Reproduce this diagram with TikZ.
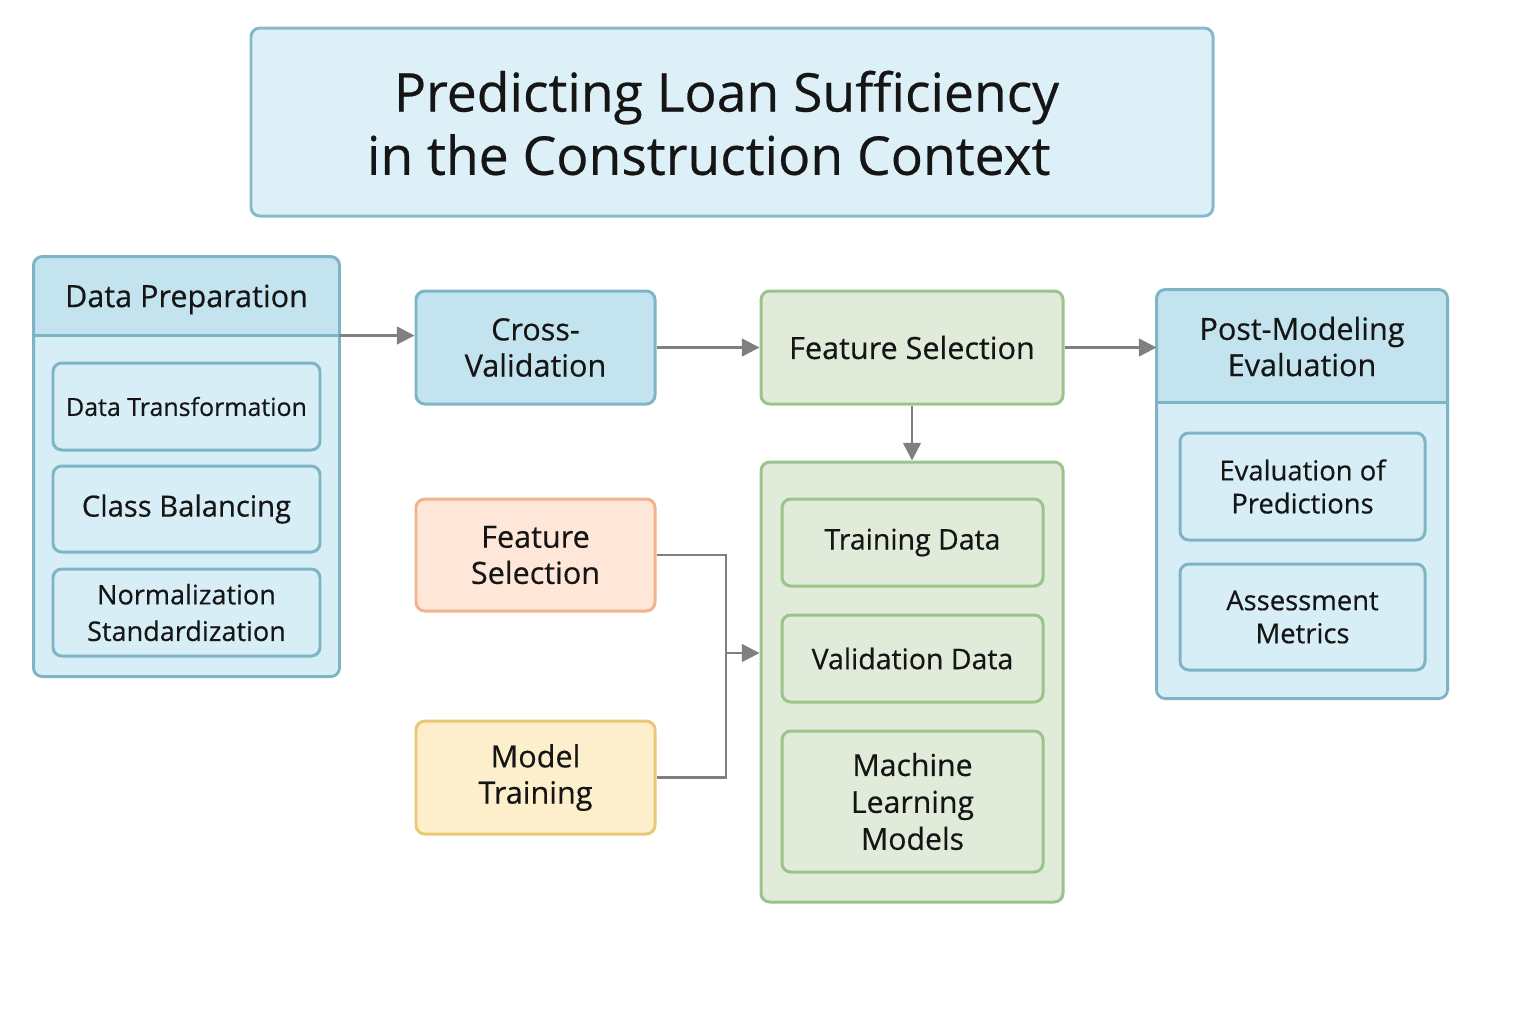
\documentclass[tikz,border=0pt]{standalone}
\usepackage{fontspec}
\setmainfont{Open Sans}[FakeBold=0.45]
\usepackage{tikz}
\usetikzlibrary{positioning,arrows.meta,calc}
\definecolor{titlefill}{HTML}{DDF0F7}
\definecolor{titleline}{HTML}{86BACB}
\definecolor{bluehead}{HTML}{C3E3EE}
\definecolor{bluebody}{HTML}{D7EEF6}
\definecolor{blueline}{HTML}{7EB4C6}
\definecolor{greenfill}{HTML}{E1EBD9}
\definecolor{greenline}{HTML}{99C48B}
\definecolor{orangefill}{HTML}{FEE6D8}
\definecolor{orangeline}{HTML}{F1B38D}
\definecolor{yellowfill}{HTML}{FDEFCB}
\definecolor{yellowline}{HTML}{EBC877}
\definecolor{arrowgray}{HTML}{808080}
\definecolor{inktext}{HTML}{151515}
\tikzset{
  box/.style={draw, rounded corners=2.5pt, line width=0.85pt, align=center,
    inner sep=0pt, text=inktext},
  bluebox/.style={box, draw=blueline, fill=bluebody},
  greenbox/.style={box, draw=greenline, fill=greenfill},
  headtext/.style={text=inktext, align=center, font=\fontsize{8.7}{10.3}\selectfont},
  subtext/.style={font=\fontsize{7.8}{9.4}\selectfont},
  conn/.style={draw=arrowgray, line width=0.7pt},
  arr/.style={conn, -{Triangle[length=5pt,width=5pt]}}
}
\begin{document}
\begin{tikzpicture}
    \useasboundingbox (0,0) rectangle (15.36,-10.24);
    \node[box, draw=titleline, fill=titlefill, minimum width=9.62cm, minimum height=1.88cm] (title) at (7.32,-1.22) {};
    \node[text=inktext, align=left, font=\fontsize{15.2}{18}\selectfont] (titletext) at (7.13,-1.23)
      {\hspace*{0.27cm}Predicting Loan Sufficiency\\in the Construction Context};
    % data preparation panel
    \node[box, draw=none, fill=bluebody, minimum width=3.03cm, minimum height=4.17cm] (prep) at (1.865,-4.665) {};
    \fill[bluehead, rounded corners=2.5pt] (prep.north west) rectangle ($(prep.north east)+(0,-0.79)$);
    \fill[bluehead] ($(prep.north west)+(0,-0.4)$) rectangle ($(prep.north east)+(0,-0.79)$);
    \coordinate (prepdiv) at ($(prep.north east)+(0,-0.79)$);
    \draw[blueline, line width=0.85pt] ($(prep.north west)+(0,-0.79)$) -- (prepdiv);
    \draw[blueline, line width=0.85pt, rounded corners=2.5pt] (prep.south west) rectangle (prep.north east);
    \node[headtext] (preptitle) at ($(prep.north)+(0,-0.43)$) {Data Preparation};
    \node[bluebox, subtext, font=\fontsize{7.1}{9}\selectfont, minimum width=2.67cm, minimum height=0.87cm] (trans) at (1.865,-4.065) {Data Transformation};
    \node[bluebox, subtext, font=\fontsize{8.3}{10}\selectfont, minimum width=2.67cm, minimum height=0.86cm] (balance) at (1.865,-5.09) {Class Balancing};
    \node[bluebox, subtext, font=\fontsize{7.7}{10.4}\selectfont, minimum width=2.67cm, minimum height=0.87cm] (norm) at (1.865,-6.125) {Normalization\\Standardization};
    % top row
    \node[box, draw=blueline, fill=bluehead, headtext, minimum width=2.39cm, minimum height=1.13cm] (cv) at (5.355,-3.475) {Cross-\\Validation};
    \node[greenbox, headtext, minimum width=3.02cm, minimum height=1.13cm] (fs) at (9.12,-3.475) {Feature Selection};
    % post-modeling panel
    \node[box, draw=none, fill=bluebody, minimum width=2.88cm, minimum height=4.06cm] (post) at (13.02,-4.94) {};
    \fill[bluehead, rounded corners=2.5pt] (post.north west) rectangle ($(post.north east)+(0,-1.13)$);
    \fill[bluehead] ($(post.north west)+(0,-0.6)$) rectangle ($(post.north east)+(0,-1.13)$);
    \draw[blueline, line width=0.85pt] ($(post.north west)+(0,-1.13)$) -- ($(post.north east)+(0,-1.13)$);
    \draw[blueline, line width=0.85pt, rounded corners=2.5pt] (post.south west) rectangle (post.north east);
    \node[headtext] (posttitle) at ($(post.north)+(0,-0.57)$) {Post-Modeling\\Evaluation};
    \node[bluebox, subtext, minimum width=2.45cm, minimum height=1.07cm] (evalpred) at (13.025,-4.865) {Evaluation of\\Predictions};
    \node[bluebox, subtext, minimum width=2.45cm, minimum height=1.06cm] (assess) at (13.025,-6.17) {Assessment\\Metrics};
    % model panel
    \node[greenbox, minimum width=3.02cm, minimum height=4.40cm] (mlbox) at (9.12,-6.82) {};
    \node[greenbox, subtext, font=\fontsize{8.1}{10}\selectfont, minimum width=2.61cm, minimum height=0.87cm] (traindata) at (9.125,-5.425) {Training Data};
    \node[greenbox, subtext, font=\fontsize{8.1}{10}\selectfont, minimum width=2.61cm, minimum height=0.87cm] (validdata) at (9.125,-6.585) {Validation Data};
    \node[greenbox, headtext, font=\fontsize{8.6}{10.5}\selectfont, minimum width=2.61cm, minimum height=1.41cm] (models) at (9.125,-8.015) {Machine\\Learning\\Models};
    % left inputs
    \node[box, draw=orangeline, fill=orangefill, headtext, minimum width=2.39cm, minimum height=1.12cm] (fsel) at (5.355,-5.55) {Feature\\Selection};
    \node[box, draw=yellowline, fill=yellowfill, headtext, minimum width=2.39cm, minimum height=1.13cm] (mtrain) at (5.355,-7.775) {Model\\Training};
    % connectors
    \draw[arr] (prepdiv) -- (prepdiv -| cv.west);
    \draw[arr] (cv.east) -- (fs.west);
    \draw[arr] (fs.east) -- (fs.east -| post.west);
    \draw[arr] (fs.south) -- (mlbox.north);
    \coordinate (join) at (7.26,-6.53);
    \draw[conn] (fsel.east) -| (join);
    \draw[conn] (mtrain.east) -| (join);
    \draw[arr] (join) -- (join -| mlbox.west);
\end{tikzpicture}
\end{document}
